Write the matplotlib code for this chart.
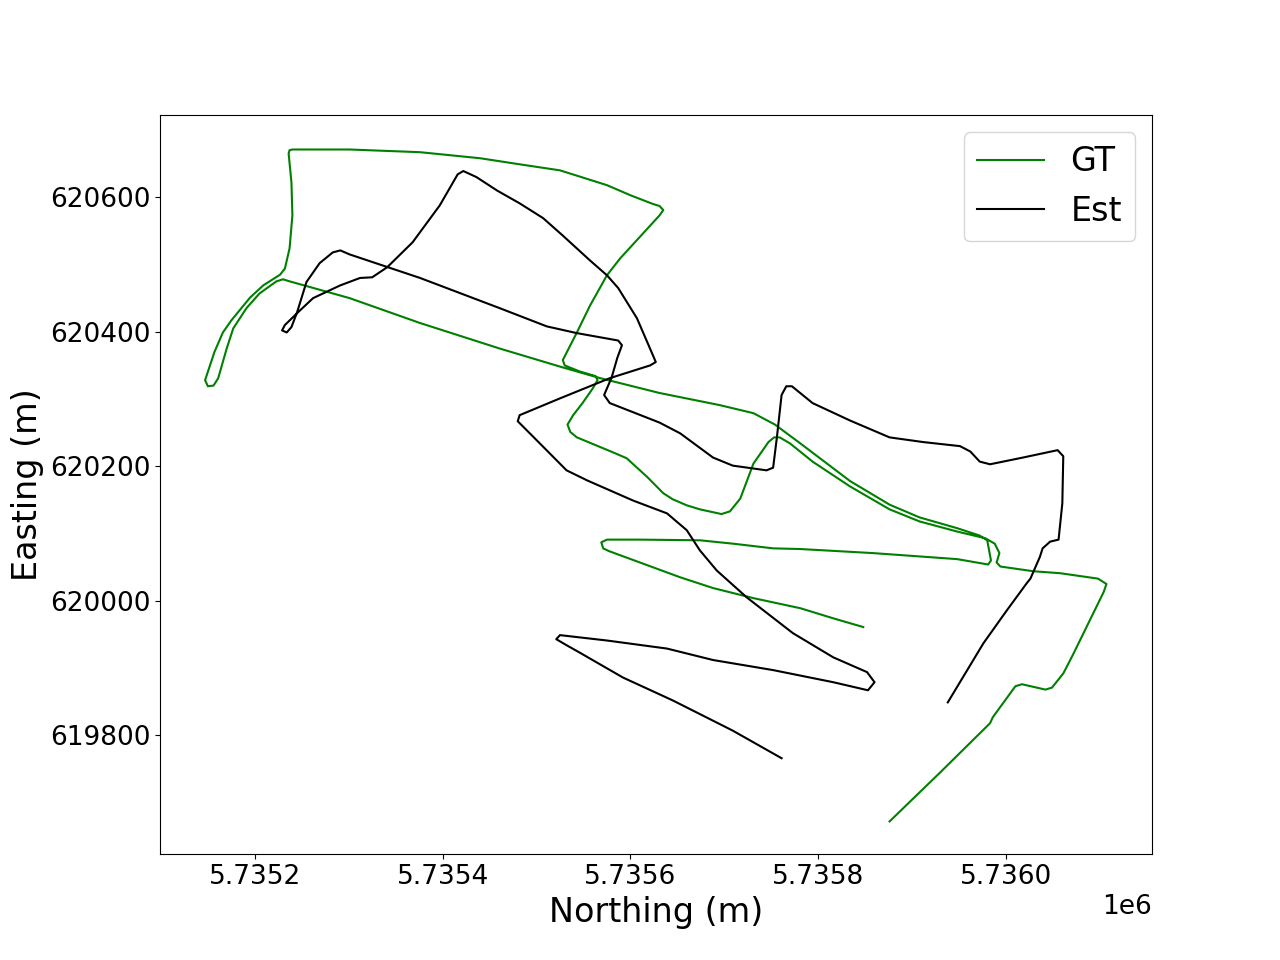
import matplotlib
matplotlib.use("Agg")
import matplotlib.pyplot as plt

# Ground truth trajectory (Northing, Easting in metres)
gt_northing = [
    5735876, 5735930, 5735983, 5735986, 5736010, 5736017, 5736042, 5736049, 5736061, 5736071,
    5736104, 5736107, 5736098, 5736058, 5736029, 5735994, 5735990, 5735993, 5735988, 5735978,
    5735948, 5735908, 5735876, 5735834, 5735794, 5735770, 5735759, 5735753, 5735747, 5735731,
    5735717, 5735706, 5735697, 5735674, 5735660, 5735645, 5735635, 5735618, 5735596, 5735581,
    5735543, 5735536, 5735533, 5735539, 5735549, 5735560, 5735565, 5735563, 5735546, 5735530,
    5735528, 5735543, 5735557, 5735575, 5735589, 5735610, 5735631, 5735635, 5735631, 5735624,
    5735600, 5735575, 5735525, 5735482, 5735440, 5735376, 5735301, 5735240, 5735237, 5735236,
    5735239, 5735240, 5735237, 5735232, 5735227, 5735209, 5735195, 5735175, 5735166, 5735157,
    5735147, 5735150, 5735156, 5735161, 5735170, 5735177, 5735191, 5735205, 5735223, 5735230,
    5735237, 5735301, 5735376, 5735461, 5735528, 5735568, 5735631, 5735695, 5735731, 5735754,
    5735781, 5735834, 5735876, 5735908, 5735948, 5735972, 5735980, 5735982, 5735984, 5735981,
    5735948, 5735887, 5735858, 5735781, 5735752, 5735709, 5735674, 5735610, 5735575, 5735569,
    5735571, 5735577, 5735610, 5735653, 5735688, 5735731, 5735781, 5735816, 5735848,
]
gt_easting = [
    619672, 619745, 619818, 619827, 619873, 619876, 619868, 619871, 619892, 619919,
    620013, 620025, 620033, 620041, 620044, 620051, 620057, 620071, 620085, 620093,
    620103, 620118, 620136, 620170, 620207, 620234, 620243, 620243, 620236, 620204,
    620152, 620133, 620129, 620136, 620142, 620151, 620160, 620184, 620212, 620221,
    620243, 620251, 620262, 620276, 620294, 620316, 620328, 620334, 620341, 620350,
    620358, 620399, 620439, 620484, 620509, 620541, 620573, 620581, 620587, 620590,
    620603, 620618, 620640, 620649, 620658, 620667, 620671, 620671, 620670, 620665,
    620622, 620573, 620524, 620494, 620485, 620469, 620451, 620417, 620399, 620370,
    620328, 620319, 620320, 620331, 620375, 620405, 620435, 620457, 620475, 620478,
    620475, 620450, 620413, 620375, 620347, 620331, 620309, 620291, 620279, 620262,
    620234, 620178, 620143, 620124, 620108, 620097, 620090, 620075, 620060, 620054,
    620062, 620068, 620071, 620077, 620078, 620085, 620090, 620091, 620091, 620087,
    620078, 620074, 620057, 620035, 620019, 620004, 619989, 619974, 619961,
]

# Estimated trajectory
est_northing = [
    5735938, 5735976, 5736001, 5736022, 5736026, 5736036, 5736039, 5736047, 5736056, 5736060,
    5736061, 5736055, 5736018, 5735983, 5735972, 5735962, 5735951, 5735912, 5735876, 5735834,
    5735794, 5735772, 5735766, 5735761, 5735756, 5735752, 5735745, 5735709, 5735688, 5735653,
    5735631, 5735578, 5735572, 5735580, 5735586, 5735591, 5735587, 5735575, 5735543, 5735511,
    5735461, 5735376, 5735301, 5735291, 5735283, 5735269, 5735255, 5735245, 5735239, 5735234,
    5735229, 5735232, 5735246, 5735262, 5735291, 5735312, 5735325, 5735341, 5735368, 5735397,
    5735416, 5735422, 5735436, 5735458, 5735482, 5735507, 5735528, 5735557, 5735575, 5735587,
    5735607, 5735624, 5735627, 5735621, 5735578, 5735525, 5735482, 5735480, 5735500, 5735532,
    5735554, 5735603, 5735639, 5735660, 5735674, 5735692, 5735724, 5735773, 5735816, 5735852,
    5735860, 5735853, 5735816, 5735752, 5735688, 5735639, 5735575, 5735525, 5735521, 5735532,
    5735546, 5735592, 5735645, 5735709, 5735761,
]
est_easting = [
    619849, 619937, 619986, 620026, 620033, 620065, 620078, 620088, 620091, 620145,
    620215, 620224, 620213, 620203, 620207, 620222, 620230, 620236, 620243, 620268,
    620294, 620319, 620319, 620306, 620243, 620198, 620194, 620201, 620213, 620249,
    620265, 620294, 620306, 620332, 620361, 620380, 620387, 620390, 620398, 620408,
    620435, 620480, 620515, 620521, 620518, 620502, 620474, 620429, 620407, 620399,
    620402, 620410, 620429, 620450, 620469, 620480, 620481, 620496, 620533, 620588,
    620634, 620639, 620630, 620610, 620591, 620569, 620543, 620506, 620484, 620465,
    620420, 620365, 620355, 620350, 620331, 620301, 620276, 620267, 620239, 620194,
    620179, 620149, 620130, 620105, 620075, 620045, 620005, 619952, 619916, 619894,
    619879, 619867, 619879, 619897, 619912, 619929, 619941, 619949, 619943, 619934,
    619923, 619886, 619852, 619807, 619766,
]

x_ticks = [5735200, 5735400, 5735600, 5735800, 5736000]
y_ticks = [619800, 620000, 620200, 620400, 620600]

fig, ax = plt.subplots(figsize=(12.8, 9.6), dpi=100)
ax.plot(gt_northing, gt_easting, color="green", linewidth=1.5, label="GT")
ax.plot(est_northing, est_easting, color="black", linewidth=1.5, label="Est")

ax.set_xlim(5735099, 5736155.5)
ax.set_ylim(619623, 620722)
ax.set_xticks(x_ticks)
ax.set_yticks(y_ticks)
ax.ticklabel_format(useOffset=False)
ax.tick_params(labelsize=19)
ax.xaxis.get_offset_text().set_fontsize(19)
ax.set_xlabel("Northing (m)", fontsize=24)
ax.set_ylabel("Easting (m)", fontsize=24)
ax.legend(loc="upper right", fontsize=24)

fig.savefig("out.png", dpi=100)
